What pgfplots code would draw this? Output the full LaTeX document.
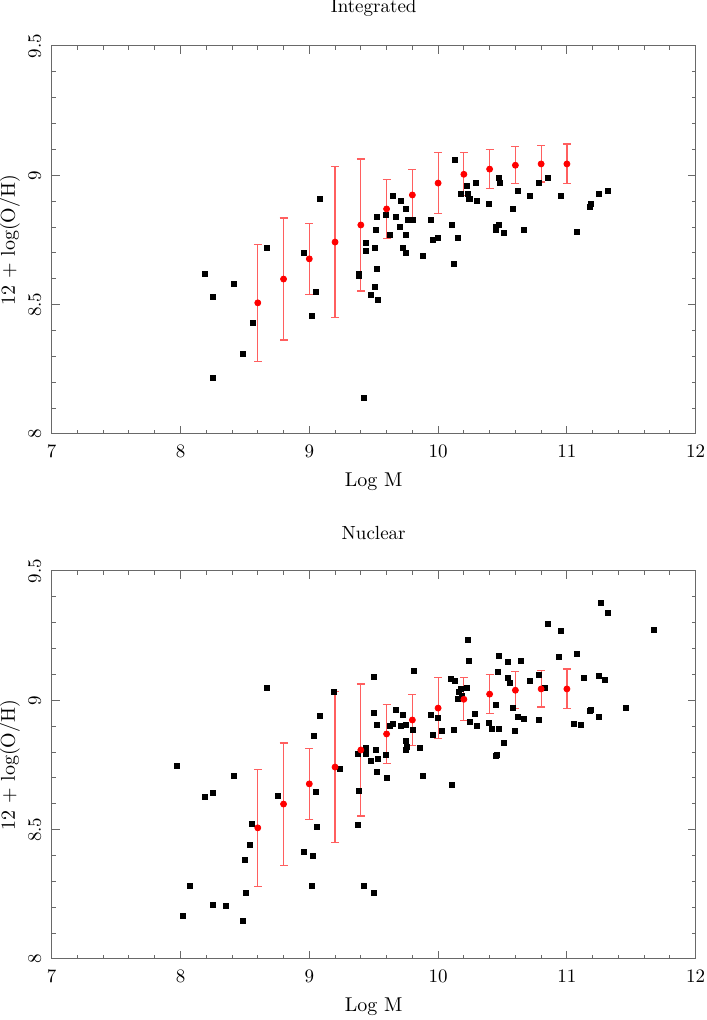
\documentclass[border=0pt]{standalone}
\usepackage{pgfplots}
\pgfplotsset{compat=1.18}
\usepackage{pgfplotstable}
\definecolor{axisgray}{RGB}{105,105,105}
\definecolor{barred}{RGB}{255,95,95}

% binned means with scatter (same in both panels)
\pgfplotstableread{
x     y      e
8.6   8.507  0.227
8.8   8.599  0.236
9.0   8.677  0.137
9.2   8.742  0.292
9.4   8.808  0.255
9.6   8.870  0.115
9.8   8.924  0.099
10.0  8.970  0.117
10.2  9.004  0.083
10.4  9.024  0.076
10.6  9.039  0.071
10.8  9.044  0.070
11.0  9.044  0.077
}\meanbins

\pgfplotstableread{
x      y
8.188  8.619
8.252  8.529
8.415  8.579
8.255  8.218
8.485  8.308
8.561  8.428
8.674  8.719
8.961  8.699
9.085  8.909
9.052  8.548
9.023  8.457
10.131 9.059
9.650  8.919
9.712  8.900
9.751  8.869
9.526  8.839
9.593  8.848
9.675  8.839
9.766  8.829
9.803  8.829
9.945  8.829
9.520  8.789
9.702  8.799
9.627  8.768
9.753  8.768
9.440  8.739
9.440  8.709
9.508  8.719
9.725  8.719
9.748  8.699
9.880  8.688
9.958  8.749
9.997  8.759
10.108 8.809
10.154 8.759
10.123 8.658
9.526  8.638
9.384  8.620
9.388  8.610
9.508  8.568
9.479  8.539
9.533  8.518
9.422  8.138
10.176 8.929
10.224 8.959
10.232 8.929
10.242 8.909
10.250 8.909
10.292 8.969
10.302 8.900
10.395 8.889
10.471 8.990
10.478 8.969
10.450 8.799
10.452 8.790
10.473 8.809
10.509 8.778
10.579 8.869
10.618 8.939
10.669 8.789
10.716 8.919
10.781 8.969
10.856 8.990
10.954 8.919
11.081 8.780
11.177 8.879
11.187 8.888
11.247 8.929
11.317 8.939
}\integrated

\pgfplotstableread{
x      y
7.973  8.745
8.076  8.281
8.019  8.165
8.188  8.626
8.252  8.641
8.415  8.706
8.255  8.209
8.351  8.204
8.485  8.146
8.511  8.256
8.498  8.384
8.542  8.440
8.557  8.523
8.674  9.049
8.759  8.629
8.961  8.415
9.031  8.400
9.023  8.281
9.060  8.509
9.054  8.646
9.034  8.862
9.085  8.941
9.189  9.033
9.236  8.736
9.380  8.791
9.388  8.651
9.380  8.519
9.440  8.817
9.440  8.791
9.422  8.284
9.505  8.255
9.479  8.766
9.502  9.090
9.505  8.950
9.526  8.906
9.520  8.808
9.533  8.772
9.526  8.722
9.595  8.788
9.601  8.701
9.627  8.902
9.650  8.907
9.675  8.964
9.725  8.945
9.712  8.902
9.751  8.906
9.753  8.844
9.759  8.820
9.748  8.807
9.805  8.885
9.813  9.112
9.857  8.817
9.880  8.706
9.945  8.945
9.997  8.932
9.958  8.867
10.033 8.882
10.100 9.083
10.131 9.074
10.108 8.674
10.121 8.885
10.230 9.233
10.238 9.152
10.176 9.043
10.165 9.032
10.183 9.016
10.155 9.005
10.225 9.049
10.289 8.948
10.248 8.917
10.302 8.901
10.395 8.911
10.418 8.889
10.473 8.889
10.450 8.981
10.467 9.110
10.475 9.173
10.540 9.149
10.540 9.088
10.558 9.067
10.509 8.834
10.455 8.790
10.450 8.785
10.579 8.969
10.618 8.937
10.600 8.883
10.640 9.153
10.669 8.929
10.716 9.076
10.781 9.097
10.828 9.049
10.781 8.923
10.856 9.295
10.954 9.267
10.939 9.168
11.078 9.180
11.135 9.086
11.057 8.909
11.109 8.905
11.177 8.959
11.187 8.963
11.247 9.094
11.249 8.936
11.296 9.078
11.265 9.376
11.317 9.338
11.461 8.970
11.674 9.273
}\nuclear

\pgfplotsset{
  panel/.style={
    scale only axis, width=322pt, height=194pt,
    anchor=south west,
    xmin=7, xmax=12, ymin=8, ymax=9.5,
    xtick={7,8,9,10,11,12}, ytick={8,8.5,9,9.5},
    minor x tick num=4, minor y tick num=4,
    tick align=inside, major tick length=4pt, minor tick length=2pt,
    axis line style={axisgray, line width=0.5pt},
    every tick/.style={axisgray, line width=0.5pt},
    /pgf/number format/assume math mode=true,
    tick label style={font=\fontsize{9.5}{11}\selectfont},
    xticklabel style={anchor=north, inner sep=0pt, yshift=-5pt},
    yticklabel style={rotate=90, anchor=south, inner xsep=0pt, inner ysep=5pt},
    xlabel={Log M}, ylabel={12 + log(O/H)},
    label style={font=\fontsize{9.5}{11}\selectfont},
    every axis x label/.style={at={(axis description cs:0.5,-0.122)}, anchor=center},
    every axis y label/.style={at={(axis description cs:-0.065,0.5)}, rotate=90, anchor=center},
    every axis title/.style={font=\fontsize{9.5}{11}\selectfont, at={(axis description cs:0.5,1.098)}, anchor=center},
  },
  dots/.style={only marks, mark=square*, mark size=1.25pt, black},
  means/.style={only marks, mark=*, mark size=1.5pt, red,
    error bars/.cd, y dir=both, y explicit,
    error bar style={barred, line width=0.6pt},
    error mark=-,
    error mark options={rotate=90, barred, mark size=2pt, line width=0.6pt}},
}

\begin{document}
\begin{tikzpicture}
\useasboundingbox (0,0) rectangle (353pt,510pt);

\begin{axis}[panel, at={(25.85pt,293pt)}, title={Integrated}]
\addplot[dots] table[x=x, y=y] {\integrated};
\addplot[means] table[x=x, y=y, y error=e] {\meanbins};
\end{axis}

\begin{axis}[panel, at={(25.85pt,30.5pt)}, title={Nuclear}]
\addplot[dots] table[x=x, y=y] {\nuclear};
\addplot[means] table[x=x, y=y, y error=e] {\meanbins};
\end{axis}

\end{tikzpicture}
\end{document}
